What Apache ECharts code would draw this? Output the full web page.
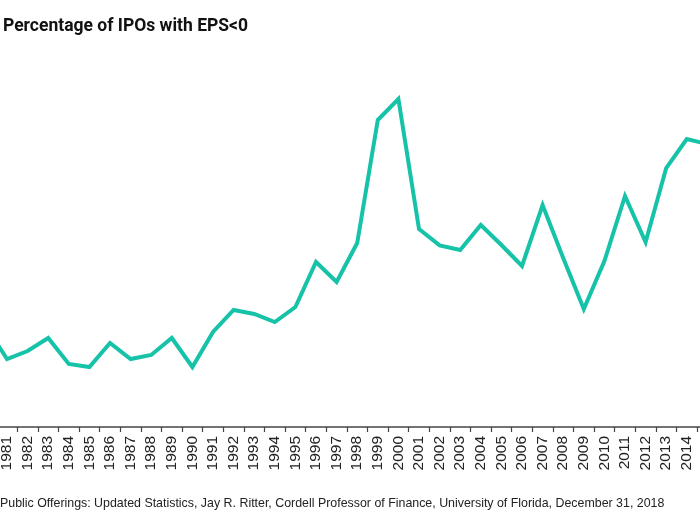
<!DOCTYPE html>
<html>
<head>
<meta charset="utf-8">
<style>html,body{margin:0;padding:0;background:#fff;}#c{width:700px;height:525px;}</style>
<script src="https://cdn.jsdelivr.net/npm/echarts@6/dist/echarts.min.js"></script>
</head>
<body>
<div id="c"></div>
<script>
var years = ['1980','1981','1982','1983','1984','1985','1986','1987','1988','1989','1990','1991','1992','1993','1994','1995','1996','1997','1998','1999','2000','2001','2002','2003','2004','2005','2006','2007','2008','2009','2010','2011','2012','2013','2014','2015'];
var pctNegativeEPS = [25, 17, 19, 22.25, 15.75, 15, 21, 17, 18, 22.25, 15, 23.75, 29.25, 28.25, 26.25, 30, 41.25, 36.25, 46, 76.75, 82, 49.5, 45.4, 44.25, 50.5, 45.5, 40.25, 55.5, 42.25, 29.5, 41.5, 57.75, 46.25, 64.75, 72, 70.75];
var titleText = 'Percentage of IPOs with EPS<0';
var sourceText = 'Public Offerings: Updated Statistics, Jay R. Ritter, Cordell Professor of Finance, University of Florida, December 31, 2018';

var chart = echarts.init(document.getElementById('c'), null, {renderer: 'canvas'});
var catW = 20.6;
var leftPx = 7 - 1.5 * catW;
var rightPx = 700 - (leftPx + years.length * catW);
chart.setOption({
  animation: false,
  backgroundColor: '#ffffff',
  title: {
    text: titleText,
    left: 3, top: 18, padding: 0,
    textStyle: {fontFamily: '"Liberation Sans Narrow", Roboto, sans-serif', fontWeight: 'bold', fontSize: 17.5, color: '#111'}
  },
  grid: {left: leftPx, right: rightPx, top: 27, bottom: 98, containLabel: false, outerBoundsMode: 'none'},
  xAxis: {
    type: 'category',
    data: years,
    boundaryGap: true,
    axisLine: {lineStyle: {color: '#444', width: 1.5}},
    axisTick: {show: true, length: 5, lineStyle: {color: '#444', width: 1.2}},
    axisLabel: {interval: 0, rotate: 90, margin: 9, fontSize: 15.5, color: '#222', fontFamily: '"Liberation Sans", Arial, sans-serif', hideOverlap: false}
  },
  yAxis: {
    type: 'value', min: 0, max: 100,
    show: false,
    splitLine: {show: false}
  },
  series: [{
    type: 'line',
    data: pctNegativeEPS,
    symbol: 'none',
    lineStyle: {color: '#16c2a8', width: 4, join: 'miter'},
    itemStyle: {color: '#16c2a8'}
  }],
  graphic: [{
    type: 'text', left: 0, top: 498,
    style: {text: sourceText, font: '12.4px "Liberation Sans", Arial, sans-serif', fill: '#222'}
  }]
});
</script>
</body>
</html>
